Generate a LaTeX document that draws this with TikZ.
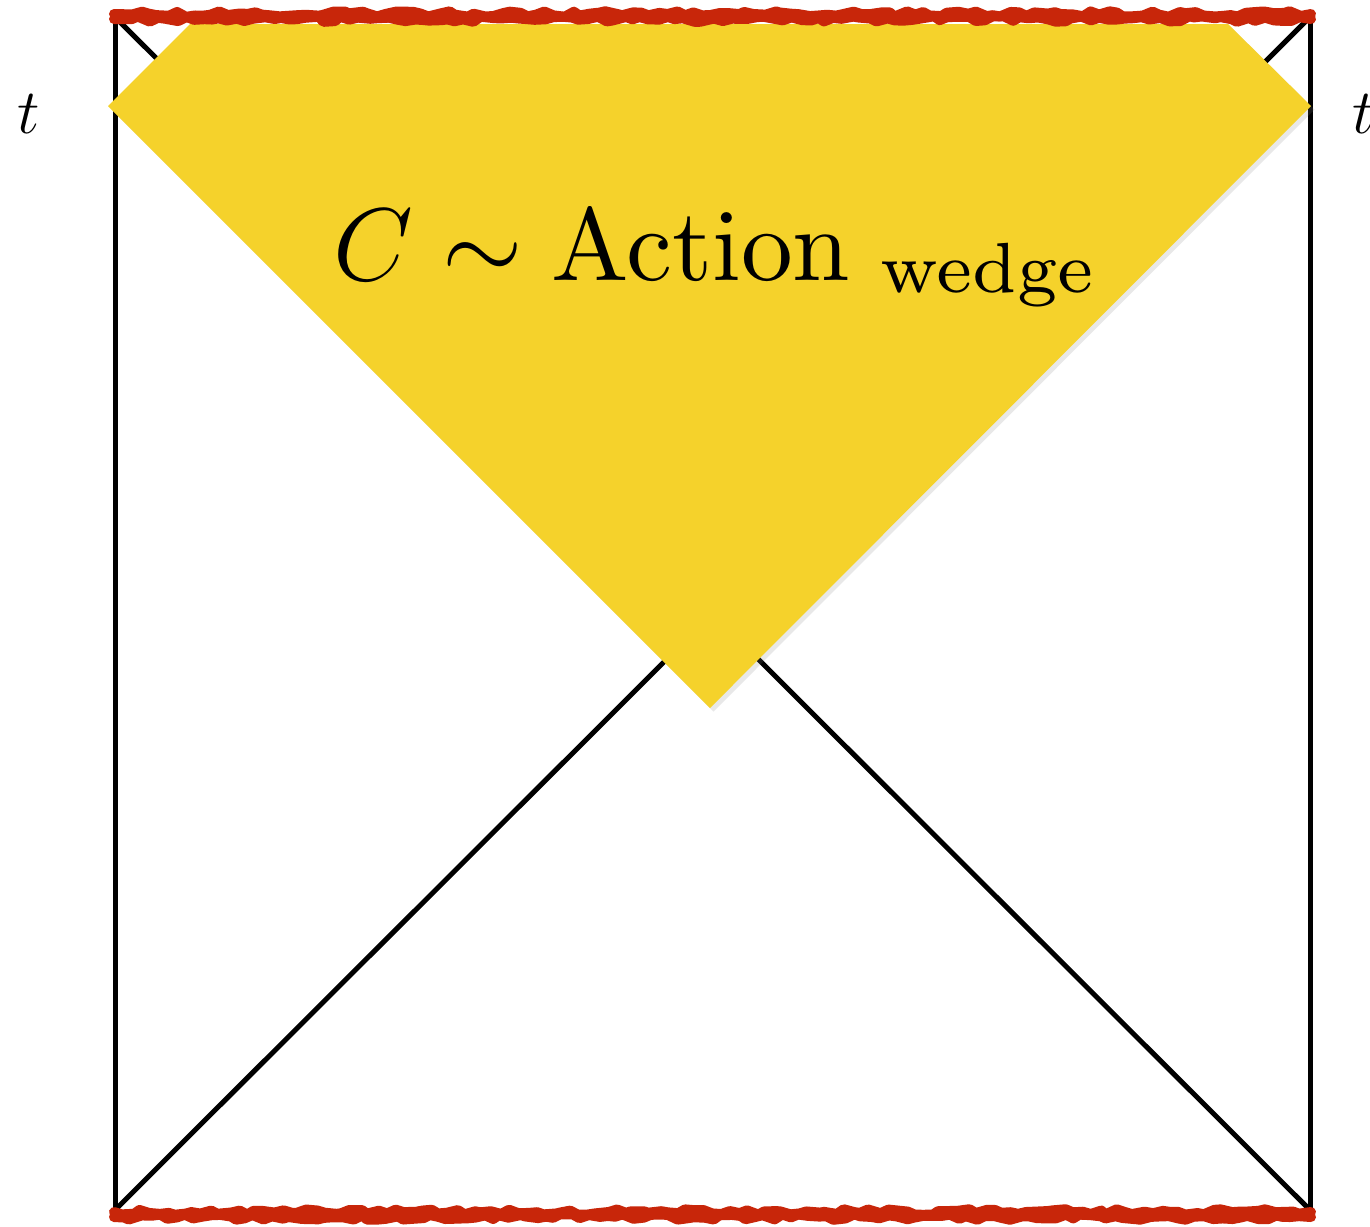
\RequirePackage{fix-cm}
\documentclass[tikz,border=0pt]{standalone}
\usepackage{fontspec}
\newfontfamily\lmten{lmroman10-regular.otf}
\newfontfamily\lmseven{lmroman7-regular.otf}
\usetikzlibrary{decorations.pathmorphing,shadows}
\definecolor{wedgeyellow}{HTML}{F5D22B}
\definecolor{singred}{HTML}{C8260A}
\tikzset{
  frame/.style={line width=0.05cm, black, line cap=round},
  sing/.style={singred, line width=0.1cm, line join=round, line cap=round, decorate, decoration={random steps, segment length=2.5pt, amplitude=0.8pt}},
  wedgefill/.style={fill=wedgeyellow, draw=none, drop shadow={opacity=0.18, shadow xshift=1pt, shadow yshift=-1pt}},
  biglabel/.style={inner sep=0pt, font=\fontsize{29.4pt}{35pt}\selectfont},
  smalllabel/.style={inner sep=0pt, font=\lmseven\fontsize{20.2pt}{25pt}\selectfont},
  tlabel/.style={inner sep=0pt, font=\fontsize{18pt}{22pt}\selectfont}
}
\begin{document}
\begin{tikzpicture}[x=0.01cm, y=-0.01cm]
\useasboundingbox (0,0) rectangle (1370,1226);
% corners
\coordinate (TL) at (115,17);
\coordinate (TR) at (1310,17);
\coordinate (BL) at (115,1210);
\coordinate (BR) at (1310,1210);
% frame and diagonals
\draw[frame] (TL) -- (BL);
\draw[frame] (TR) -- (BR);
\draw[frame] (TL) -- (BR);
\draw[frame] (TR) -- (BL);
% wedge
\coordinate (WL) at (108,106);
\coordinate (WTL) at (190,24);
\coordinate (WTR) at (1228,24);
\coordinate (WR) at (1311,106);
\coordinate (WB) at (710,708);
\fill[wedgefill] (WL) -- (WTL) -- (WTR) -- (WR) -- (WB) -- cycle;
% singularities
\draw[sing] (114,14) -- (1311,14);
\draw[sing] (114,19) -- (1311,19);
\draw[sing] (114,1212) -- (1311,1212);
\draw[sing] (114,1217) -- (1311,1217);
% labels
\node[biglabel, anchor=base west] (act) at (333,280) {$C\sim$\hspace{0.28em}{\lmten Action}};
\node[smalllabel, anchor=base west] (wdg) at (880,292) {wedge};
\node[tlabel] (tl) at (29,114) {$t$};
\node[tlabel] (tr) at (1364,114) {$t$};
\end{tikzpicture}
\end{document}
